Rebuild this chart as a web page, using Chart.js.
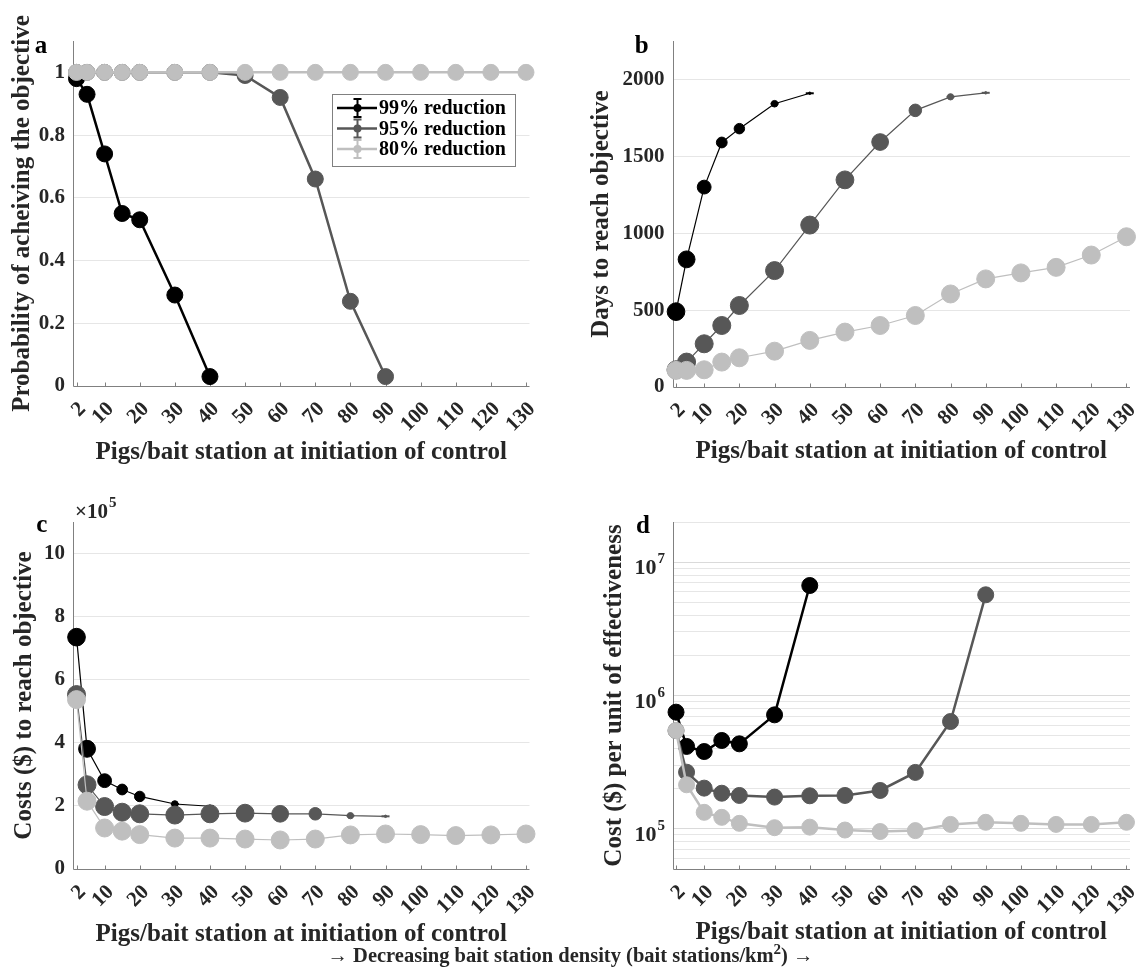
<!DOCTYPE html>
<html>
<head>
<meta charset="utf-8">
<script src="https://cdn.jsdelivr.net/npm/chart.js@4.4.1/dist/chart.umd.min.js"></script>
<style>
  body { margin: 0; background: #fff; width: 1141px; height: 968px; position: relative; overflow: hidden; }
  canvas { position: absolute; }
  #note { position: absolute; left: 0; width: 1141px; top: 942px; line-height: 26px; text-align: center;
          font-family: "Liberation Serif", serif; font-weight: bold; font-size: 20.5px; color: #262626; }
  #note sup { font-size: 15px; line-height: 0; }
</style>
</head>
<body>
<canvas id="chartA" width="570" height="484" style="left:0;top:0"></canvas>
<canvas id="chartB" width="571" height="484" style="left:570px;top:0"></canvas>
<canvas id="chartC" width="570" height="484" style="left:0;top:484px"></canvas>
<canvas id="chartD" width="571" height="484" style="left:570px;top:484px"></canvas>
<div id="note">&rarr; Decreasing bait station density (bait stations/km<sup>2</sup>) &rarr;</div>
<script>
// x positions (pigs per bait station) and tick labels
const pigsPerStation = [2, 5, 10, 15, 20, 30, 40, 50, 60, 70, 80, 90, 100, 110, 120, 130];
const xTickValues = [2, 10, 20, 30, 40, 50, 60, 70, 80, 90, 100, 110, 120, 130];
const seriesNames = ['99% reduction', '95% reduction', '80% reduction'];
const seriesColors = ['#000000', '#575757', '#bfbfbf'];

// a - probability of achieving the objective
const prob99 = [0.98, 0.93, 0.74, 0.55, 0.53, 0.29, 0.03, null, null, null, null, null, null, null, null, null];
const prob95 = [1, 1, 1, 1, 1, 1, 1, 0.99, 0.92, 0.66, 0.27, 0.03, null, null, null, null];
const prob80 = [1, 1, 1, 1, 1, 1, 1, 1, 1, 1, 1, 1, 1, 1, 1, 1];
const probTicks = [0, 0.2, 0.4, 0.6, 0.8, 1];

// b - days to reach objective
const days99 = [490, 830, 1300, 1590, 1680, 1842, 1910, null, null, null, null, null, null, null, null, null];
const days95 = [112, 162, 281, 400, 530, 757, 1053, 1347, 1593, 1799, 1887, 1913, null, null, null, null];
const days80 = [108, 108, 112, 162, 190, 233, 303, 357, 400, 465, 605, 703, 742, 778, 858, 977];
const daysTicks = [0, 500, 1000, 1500, 2000];

// c - costs ($) to reach objective
const cost99 = [735000, 381000, 280000, 252000, 230000, 206000, 199000, null, null, null, null, null, null, null, null, null];
const cost95 = [553000, 267000, 198000, 180000, 175000, 171000, 175000, 177000, 175000, 175000, 169000, 167000, null, null, null, null];
const cost80 = [537000, 215000, 130000, 120000, 109000, 98000, 98000, 95000, 92000, 95000, 108000, 111000, 109000, 106000, 108000, 111000];
const costTicks = [0, 200000, 400000, 600000, 800000, 1000000];

// d - cost per unit of effectiveness (log)
const eff99 = [750000, 415000, 380000, 460000, 434000, 716000, 6680000, null, null, null, null, null, null, null, null, null];
const eff95 = [545000, 266000, 202000, 185000, 178000, 173000, 177000, 178000, 194000, 265000, 638000, 5690000, null, null, null, null];
const eff80 = [546000, 214000, 133000, 122000, 110000, 102000, 103000, 98000, 95500, 97000, 108000, 112000, 110000, 108000, 108000, 112000];
const effLabelTicks = [1e5, 1e6, 1e7];

const FONT = '"Liberation Serif", "Times New Roman", serif';
const TEXT = '#262626';
const AXIS = '#808080';
const GRID = '#e6e6e6';
const X_TITLE = 'Pigs/bait station at initiation of control';
const TICK_SIZE = 21;
const TITLE_SIZE = 25;

// gridlines for the log panel: 2..9 times each decade
const effGridTicks = [];
[1e4, 1e5, 1e6, 1e7].forEach(d => {
    for (let m = 1; m < 10; m++) {
        const v = m * d;
        if (v >= 5e4 && v <= 2e7) effGridTicks.push(v);
    }
});

function series(vals, i, lineWidth, radii) {
    return {
        label: seriesNames[i],
        data: pigsPerStation.map((x, k) => ({ x: x, y: vals[k] })),
        borderColor: seriesColors[i],
        backgroundColor: seriesColors[i],
        pointBackgroundColor: seriesColors[i],
        pointBorderColor: seriesColors[i],
        pointBorderWidth: 1,
        borderWidth: lineWidth,
        pointRadius: radii,
        order: 2 - i,
        clip: false,
        spanGaps: false,
        tension: 0
    };
}

// error bar caps (zero spread), only visible under the smallest markers
function caps(vals, i) {
    return {
        label: seriesNames[i] + ' caps',
        data: pigsPerStation.map((x, k) => ({ x: x, y: vals[k] })),
        showLine: false,
        pointStyle: 'line',
        pointRadius: 4,
        pointBorderWidth: 2,
        pointBorderColor: seriesColors[i],
        borderColor: seriesColors[i],
        order: 5 - i,
        clip: false
    };
}

// marker size follows the probability of success (panels b, c)
function sizeByProb(probs) {
    return probs.map(p => p == null ? 0 : 1 + 8 * p);
}

function xScale(xHeight) {
    return {
        type: 'linear', min: 1, max: 131,
        afterBuildTicks: s => { s.ticks = xTickValues.map(v => ({ value: v })); },
        afterFit: s => { s.height = xHeight; s.paddingLeft = 0; s.paddingRight = 0; },
        grid: { display: false, drawTicks: false },
        border: { display: false },
        ticks: {
            autoSkip: false, minRotation: 45, maxRotation: 45, padding: 11, labelOffset: 6,
            color: TEXT, font: { family: FONT, size: TICK_SIZE, weight: 'bold' },
            callback: v => String(v)
        },
        title: { display: true, text: X_TITLE, color: TEXT, font: { family: FONT, size: TITLE_SIZE, weight: 'bold' }, padding: { top: 0, bottom: 0 } }
    };
}

function yScale(o) {
    return {
        type: o.type || 'linear', min: o.min, max: o.max,
        afterBuildTicks: s => { s.ticks = o.ticks.map(v => ({ value: v })); },
        afterFit: s => { s.width = o.width; s.paddingTop = 0; s.paddingBottom = 0; },
        grid: {
            drawTicks: false,
            color: c => (c.tick && c.tick.value === o.min) ? 'rgba(0,0,0,0)' : (o.gridColor ? o.gridColor(c.tick.value) : GRID)
        },
        border: { display: false },
        ticks: {
            display: o.showLabels !== false, padding: 8,
            color: TEXT, font: { family: FONT, size: TICK_SIZE, weight: 'bold' },
            callback: o.label || (v => String(v))
        },
        title: { display: true, text: o.title, color: TEXT, font: { family: FONT, size: TITLE_SIZE, weight: 'bold' }, padding: { top: o.titlePad, bottom: 0 } }
    };
}

// axis lines, inward x ticks, panel letter and extra decorations
function framePlugin(letter, lx, ly, extra) {
    return {
        id: 'frame' + letter,
        beforeDatasetsDraw(chart) {
            const { ctx, chartArea: a, scales: { x } } = chart;
            ctx.save();
            ctx.strokeStyle = AXIS;
            ctx.lineWidth = 1;
            ctx.beginPath();
            const bx = Math.round(a.left) + 0.5, by = Math.round(a.bottom) + 0.5;
            ctx.moveTo(bx, a.top);
            ctx.lineTo(bx, by);
            ctx.lineTo(a.right, by);
            xTickValues.forEach(v => {
                const px = Math.round(x.getPixelForValue(v)) + 0.5;
                ctx.moveTo(px, by);
                ctx.lineTo(px, by - 4);
            });
            ctx.stroke();
            ctx.restore();
        },
        afterDraw(chart) {
            const ctx = chart.ctx;
            ctx.save();
            ctx.fillStyle = '#000';
            ctx.font = 'bold 25px ' + FONT;
            ctx.textAlign = 'center';
            ctx.textBaseline = 'alphabetic';
            ctx.fillText(letter, lx, ly);
            ctx.restore();
            if (extra) extra(chart);
        }
    };
}

function drawLegend(chart) {
    const ctx = chart.ctx;
    ctx.save();
    ctx.fillStyle = '#fff';
    ctx.strokeStyle = '#808080';
    ctx.lineWidth = 1;
    ctx.fillRect(332.5, 94.5, 183, 72);
    ctx.strokeRect(332.5, 94.5, 183, 72);
    const rows = [108, 128.5, 149];
    seriesNames.forEach((name, i) => {
        const y = rows[i];
        ctx.strokeStyle = seriesColors[i];
        ctx.fillStyle = seriesColors[i];
        ctx.lineWidth = 2.5;
        ctx.beginPath();
        ctx.moveTo(337, y); ctx.lineTo(377, y);
        ctx.stroke();
        ctx.lineWidth = 2;
        ctx.beginPath();
        ctx.moveTo(357.5, y - 9); ctx.lineTo(357.5, y + 9);
        ctx.moveTo(353.5, y - 9); ctx.lineTo(361.5, y - 9);
        ctx.moveTo(353.5, y + 9); ctx.lineTo(361.5, y + 9);
        ctx.stroke();
        ctx.beginPath();
        ctx.arc(357.5, y, 4, 0, Math.PI * 2);
        ctx.fill();
        ctx.fillStyle = '#000';
        ctx.font = 'bold 20px ' + FONT;
        ctx.textAlign = 'left';
        ctx.textBaseline = 'middle';
        ctx.fillText(name, 379, y + 1);
    });
    ctx.restore();
}

function drawExponent(chart) {
    const ctx = chart.ctx;
    ctx.save();
    ctx.fillStyle = TEXT;
    ctx.textAlign = 'left';
    ctx.textBaseline = 'alphabetic';
    ctx.font = 'bold 21px ' + FONT;
    ctx.fillText('\u00d710', 75, 33.5);
    const w = ctx.measureText('\u00d710').width;
    ctx.font = 'bold 15px ' + FONT;
    ctx.fillText('5', 75 + w + 1, 22.5);
    ctx.restore();
}

function drawLogLabels(chart) {
    const { ctx, chartArea: a, scales: { y } } = chart;
    ctx.save();
    ctx.fillStyle = TEXT;
    ctx.textAlign = 'left';
    ctx.textBaseline = 'alphabetic';
    effLabelTicks.forEach(v => {
        const py = y.getPixelForValue(v);
        const exp = String(Math.round(Math.log10(v)));
        ctx.font = 'bold 15px ' + FONT;
        const ws = ctx.measureText(exp).width;
        ctx.font = 'bold 22px ' + FONT;
        const wb = ctx.measureText('10').width;
        const right = a.left - 7.5;
        ctx.fillText('10', right - ws - wb - 1, py + 12);
        ctx.font = 'bold 15px ' + FONT;
        ctx.fillText(exp, right - ws, py + 1);
    });
    ctx.restore();
}

function makeChart(id, datasets, padding, xHeight, yOpts, plugin) {
    return new Chart(document.getElementById(id), {
        type: 'line',
        data: { datasets: datasets },
        options: {
            responsive: false,
            animation: false,
            layout: { padding: padding },
            plugins: { legend: { display: false }, tooltip: { enabled: false } },
            scales: { x: xScale(xHeight), y: yScale(yOpts) }
        },
        plugins: [plugin]
    });
}

makeChart('chartA',
    [series(prob99, 0, 2.5, 8), series(prob95, 1, 2.5, 8), series(prob80, 2, 2.5, 8)],
    { left: 0, top: 41, right: 40.5, bottom: 16 }, 82,
    { min: 0, max: 1.1, ticks: probTicks, width: 73, title: 'Probability of acheiving the objective', titlePad: 8 },
    framePlugin('a', 41, 52.5, drawLegend));

makeChart('chartB',
    [series(days99, 0, 1.2, sizeByProb(prob99)), series(days95, 1, 1.2, sizeByProb(prob95)), series(days80, 2, 1.2, sizeByProb(prob80)),
     caps(days99, 0), caps(days95, 1)],
    { left: 0, top: 41, right: 11, bottom: 17 }, 80,
    { min: 0, max: 2250, ticks: daysTicks, width: 102.5, title: 'Days to reach objective', titlePad: 17 },
    framePlugin('b', 71.7, 52.5, null));

makeChart('chartC',
    [series(cost99, 0, 1.2, sizeByProb(prob99)), series(cost95, 1, 1.2, sizeByProb(prob95)), series(cost80, 2, 1.2, sizeByProb(prob80)),
     caps(cost99, 0), caps(cost95, 1)],
    { left: 0, top: 38, right: 40.5, bottom: 18 }, 81,
    { min: 0, max: 1100000, ticks: costTicks, width: 73, title: 'Costs ($) to reach objective', titlePad: 10,
      label: v => String(Math.round(v / 100000)) },
    framePlugin('c', 41.7, 48, drawExponent));

makeChart('chartD',
    [series(eff99, 0, 2.5, 8), series(eff95, 1, 2.5, 8), series(eff80, 2, 2.5, 8)],
    { left: 0, top: 38, right: 11, bottom: 20 }, 79,
    { type: 'logarithmic', min: 5e4, max: 2e7, ticks: effGridTicks, width: 102.5, title: 'Cost ($) per unit of effectiveness', titlePad: 30,
      showLabels: false, gridColor: v => (effLabelTicks.indexOf(v) >= 0 ? '#dadada' : GRID) },
    framePlugin('d', 73, 48.7, drawLogLabels));
</script>
</body>
</html>
